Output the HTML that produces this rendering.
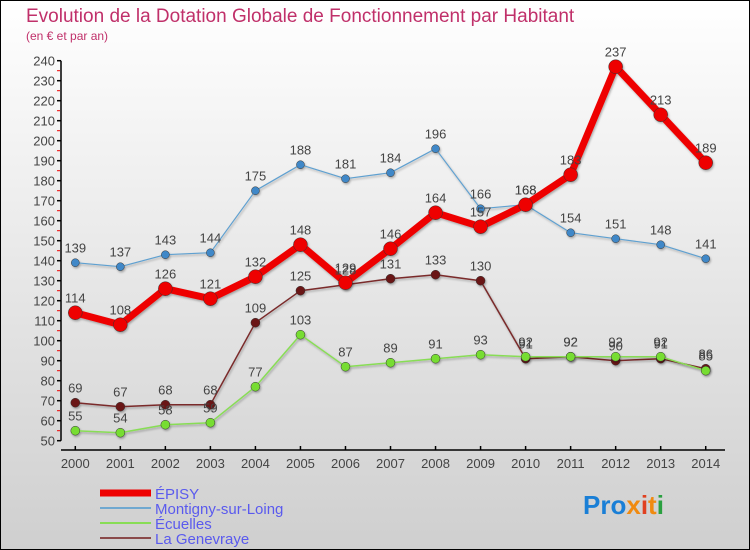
<!DOCTYPE html>
<html><head><meta charset="utf-8"><style>
html,body{margin:0;padding:0}
body{width:750px;height:550px;overflow:hidden;font-family:"Liberation Sans",sans-serif}
#wrap{position:absolute;left:0;top:0;width:748px;height:548px;border:1px solid #000;background:linear-gradient(#ffffff,#cfcfcf)}
</style></head><body>
<div id="wrap">
<svg id="chart" width="750" height="550" style="position:absolute;left:-1px;top:-1px">
<defs><filter id="sh" x="-20%" y="-20%" width="140%" height="140%"><feDropShadow dx="1" dy="1.5" stdDeviation="1" flood-color="#000" flood-opacity="0.3"/></filter></defs>
<text x="26" y="22" font-size="19" fill="#c0306a">Evolution de la Dotation Globale de Fonctionnement par Habitant</text>
<text x="26" y="40" font-size="12" fill="#c0306a">(en € et par an)</text>
<g id="axes"></g>
<g id="series"></g>
<g id="legend" font-size="15" fill="#5a5aee"></g>
<text x="583" y="514" font-size="26" font-weight="bold"><tspan fill="#1a7fd6">Pro</tspan><tspan fill="#f08a10">x</tspan><tspan fill="#e04020">i</tspan><tspan fill="#f08a10">t</tspan><tspan fill="#2aa040">i</tspan></text>
</svg>
</div>
<script>
const years = [2000,2001,2002,2003,2004,2005,2006,2007,2008,2009,2010,2011,2012,2013,2014];
const episy = [114,108,126,121,132,148,129,146,164,157,168,183,237,213,189];
const montigny = [139,137,143,144,175,188,181,184,196,166,168,154,151,148,141];
const ecuelles = [55,54,58,59,77,103,87,89,91,93,92,92,92,92,85];
const genevraye = [69,67,68,68,109,125,128,131,133,130,91,92,90,91,86];
const yTicks = [50,60,70,80,90,100,110,120,130,140,150,160,170,180,190,200,210,220,230,240];
const NS='http://www.w3.org/2000/svg';
function X(i){return 75.3+i*45.03;}
function Y(v){return 440.7-(v-50)*2;}
function mk(tag,attrs,parent){const e=document.createElementNS(NS,tag);for(const k in attrs)e.setAttribute(k,attrs[k]);parent.appendChild(e);return e;}
const axes=document.getElementById('axes');
mk('line',{x1:61,y1:Y(240),x2:61,y2:Y(50),stroke:'#000','stroke-width':1.5},axes);
mk('line',{x1:61,y1:450,x2:725,y2:450,stroke:'#000','stroke-width':1.5},axes);
yTicks.forEach(v=>{
  const t=mk('line',{x1:57,y1:Y(v),x2:61,y2:Y(v),stroke:'#000','stroke-width':1.5},axes);
  
  
  if(v<240){mk('line',{x1:57,y1:Y(v+5),x2:60,y2:Y(v+5),stroke:'#e00','stroke-width':1},axes);}
  const l=mk('text',{x:55,y:Y(v)+5,'text-anchor':'end','font-size':13,fill:'#444'},axes);
  l.textContent=v;
  
  
});
years.forEach((yr,i)=>{
  mk('line',{x1:X(i),y1:446,x2:X(i),y2:450,stroke:'#000','stroke-width':1.5},axes);
  const l=mk('text',{x:X(i),y:468,'text-anchor':'middle','font-size':13,fill:'#444'},axes);
  l.textContent=yr;
  
  
});
const series=[
 {name:'genevraye',vals:genevraye,color:'#7a2a2a',dot:'#6a1515',w:1.5,r:4.5},
 {name:'ecuelles',vals:ecuelles,color:'#88dd55',dot:'#77dd33',w:1.5,r:4.5},
 {name:'montigny',vals:montigny,color:'#5fa0d0',dot:'#3f88c8',w:1.2,r:4},
 {name:'episy',vals:episy,color:'#ee0000',dot:'#ee0000',w:7,r:7}
];
const sg=document.getElementById('series');
series.forEach(s=>{
  const g=mk('g',{filter:'url(#sh)'},sg);
  
  
  const pts=s.vals.map((v,i)=>X(i)+','+Y(v)).join(' ');
  const pl=mk('polyline',{points:pts,fill:'none',stroke:s.color,'stroke-width':s.w,'stroke-linejoin':'round'},g);
  
  
  s.vals.forEach((v,i)=>{
    const c=mk('circle',{cx:X(i),cy:Y(v),r:s.r,fill:s.dot,stroke:'#333','stroke-width':0.5},g);
    
    
  });
});
series.forEach(s=>{
  s.vals.forEach((v,i)=>{
    const t=mk('text',{x:X(i),y:Y(v)-10,'text-anchor':'middle','font-size':13,fill:'#444'},sg);
    t.textContent=v;
    
    
  });
});
const lg=document.getElementById('legend');
const leg=[['ÉPISY','#ee0000',7],['Montigny-sur-Loing','#6fa8d0',2],['Écuelles','#88dd55',2],['La Genevraye','#8a4a4a',2]];
leg.forEach((e,i)=>{
  const y=493+i*15;
  const ln=mk('line',{x1:100,y1:y,x2:151,y2:y,stroke:e[1],'stroke-width':e[2]},lg);
  
  
  const t=mk('text',{x:155,y:y+6},lg);
  t.textContent=e[0];
  
  
});
</script>
</body></html>
